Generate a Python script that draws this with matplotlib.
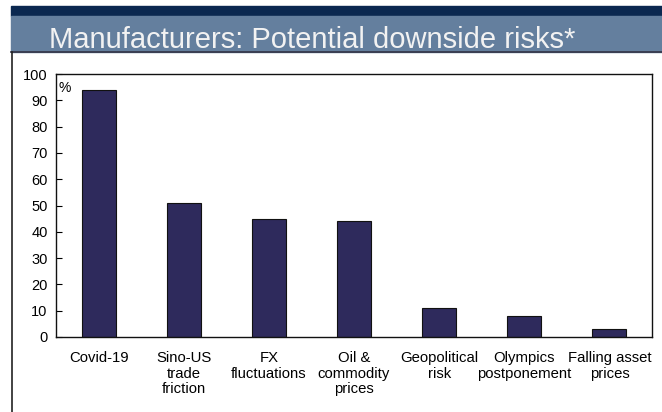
import matplotlib
matplotlib.use("Agg")
import matplotlib.pyplot as plt
from matplotlib.patches import Rectangle
from matplotlib.lines import Line2D

categories = ["Covid-19", "Sino-US\ntrade\nfriction", "FX\nfluctuations",
              "Oil &\ncommodity\nprices", "Geopolitical\nrisk",
              "Olympics\npostponement", "Falling asset\nprices"]
values = [94, 51, 45, 44, 11, 8, 3]
y_ticks = list(range(0, 101, 10))

title = "Manufacturers: Potential downside risks*"

plt.rcParams['font.family'] = ['Liberation Sans', 'DejaVu Sans']

fig = plt.figure(figsize=(6.62, 4.12), dpi=100)
W, H = 662, 412

def fx(px):
    return px / W

def fy(py):
    return 1 - py / H

# Header bands
fig.patches.append(Rectangle((fx(11), fy(16)), 1 - fx(11), fy(6) - fy(16),
                             transform=fig.transFigure, color="#0B2850", zorder=0))
fig.patches.append(Rectangle((fx(11), fy(52)), 1 - fx(11), fy(16) - fy(52),
                             transform=fig.transFigure, color="#647F9E", zorder=0))
fig.lines.append(Line2D([fx(11), 1], [fy(52), fy(52)], transform=fig.transFigure,
                        color="#333344", lw=1.2))
fig.lines.append(Line2D([fx(11.5), fx(11.5)], [fy(52), 0], transform=fig.transFigure,
                        color="#222222", lw=1.2))
fig.text(fx(49), fy(48), title, color="#F2F2F2", fontsize=21,
         va="baseline", ha="left")

ax = fig.add_axes([fx(56), fy(337), fx(652) - fx(56), fy(74) - fy(337)])
x = range(len(categories))
ax.bar(x, values, width=0.4, color="#2E2A5C", edgecolor="#111111", linewidth=0.8)
ax.set_xlim(-0.5, len(categories) - 0.5)
ax.set_ylim(0, 100)
ax.set_yticks(y_ticks)
ax.tick_params(axis="y", direction="in", length=4, labelsize=10.5, pad=6)
ax.set_xticks(list(x))
ax.set_xticklabels(categories, fontsize=10.7, linespacing=1.15)
ax.tick_params(axis="x", length=0, pad=10)
for s in ax.spines.values():
    s.set_linewidth(1.0)
    s.set_color("#111111")
ax.text(0.005, 0.975, "%", transform=ax.transAxes, fontsize=10, va="top", ha="left")

fig.savefig("out.png", dpi=100)
